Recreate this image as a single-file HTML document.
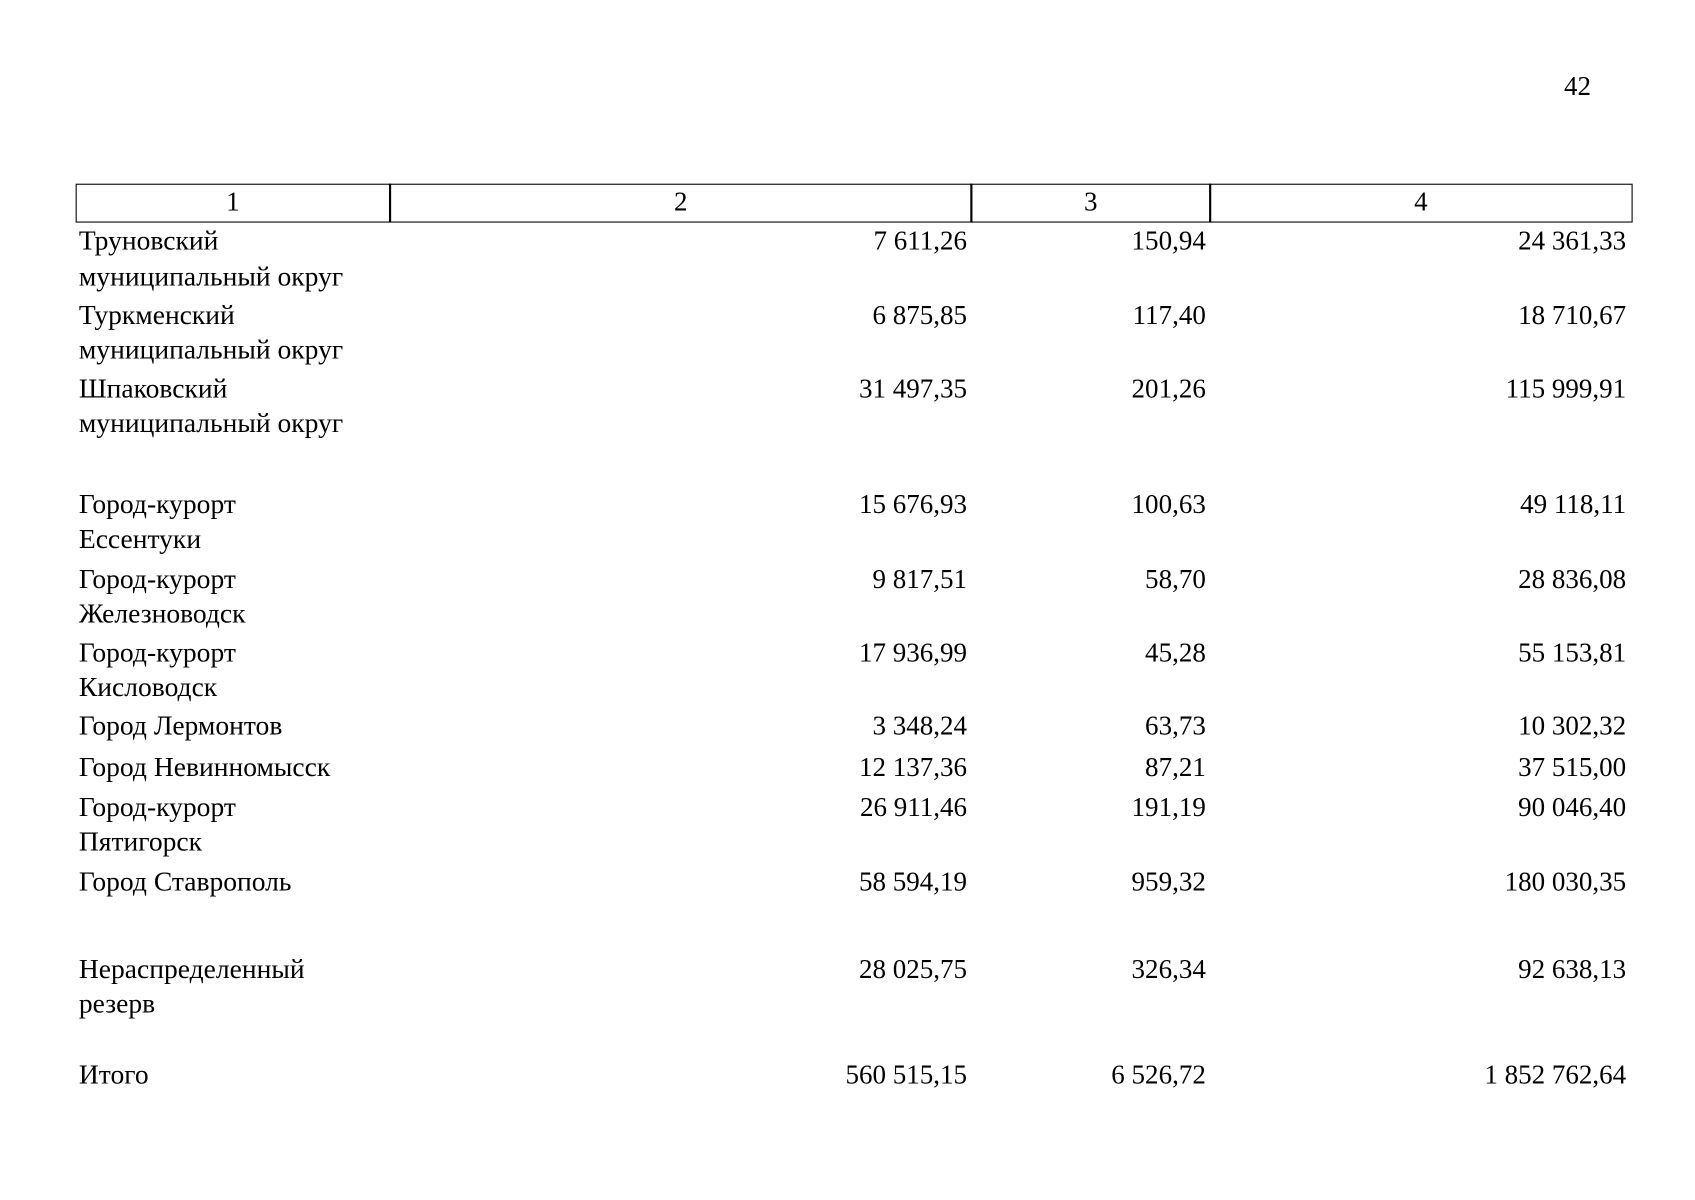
<!DOCTYPE html>
<html><head><meta charset="utf-8"><style>
html,body{margin:0;padding:0;background:#fff;width:1695px;height:1200px;overflow:hidden}
#c{position:absolute;left:0;top:0;width:1570px;height:1110px;transform:scale(1.0805);transform-origin:0 0;font-family:"Liberation Serif",serif;font-size:25px;color:#000}
.t{position:absolute;line-height:28px;white-space:nowrap;transform:scaleX(1.02);transform-origin:0 50%;margin-top:2px}
.r{position:absolute;line-height:28px;white-space:nowrap;text-align:right;margin-top:2px}
.h{position:absolute;line-height:28px;text-align:center}
.b{position:absolute;border:1.5px solid #000;box-sizing:border-box}
.v{position:absolute;width:1.5px;background:#000}
</style></head><body><div id="c">
<div class="h" style="left:1435px;top:67px;width:50px">42</div>
<div class="b" style="left:70px;top:170px;width:1441px;height:36px"></div>
<div class="v" style="left:360px;top:170px;height:36px"></div>
<div class="v" style="left:898px;top:170px;height:36px"></div>
<div class="v" style="left:1119px;top:170px;height:36px"></div>
<div class="h" style="left:70px;width:291px;top:174px">1</div>
<div class="h" style="left:361px;width:538px;top:174px">2</div>
<div class="h" style="left:899px;width:221px;top:174px">3</div>
<div class="h" style="left:1120px;width:390px;top:174px">4</div>

<div class="t" style="left:73px;top:208px">Труновский</div>
<div class="t" style="left:73px;top:241px">муниципальный округ</div>
<div class="r" style="right:675px;top:208px">7 611,26</div>
<div class="r" style="right:454px;top:208px">150,94</div>
<div class="r" style="right:65px;top:208px">24 361,33</div>

<div class="t" style="left:73px;top:277px">Туркменский</div>
<div class="t" style="left:73px;top:309px">муниципальный округ</div>
<div class="r" style="right:675px;top:277px">6 875,85</div>
<div class="r" style="right:454px;top:277px">117,40</div>
<div class="r" style="right:65px;top:277px">18 710,67</div>

<div class="t" style="left:73px;top:345px">Шпаковский</div>
<div class="t" style="left:73px;top:377px">муниципальный округ</div>
<div class="r" style="right:675px;top:345px">31 497,35</div>
<div class="r" style="right:454px;top:345px">201,26</div>
<div class="r" style="right:65px;top:345px">115 999,91</div>

<div class="t" style="left:73px;top:452px">Город-курорт</div>
<div class="t" style="left:73px;top:484px">Ессентуки</div>
<div class="r" style="right:675px;top:452px">15 676,93</div>
<div class="r" style="right:454px;top:452px">100,63</div>
<div class="r" style="right:65px;top:452px">49 118,11</div>

<div class="t" style="left:73px;top:521px">Город-курорт</div>
<div class="t" style="left:73px;top:553px">Железноводск</div>
<div class="r" style="right:675px;top:521px">9 817,51</div>
<div class="r" style="right:454px;top:521px">58,70</div>
<div class="r" style="right:65px;top:521px">28 836,08</div>

<div class="t" style="left:73px;top:589px">Город-курорт</div>
<div class="t" style="left:73px;top:621px">Кисловодск</div>
<div class="r" style="right:675px;top:589px">17 936,99</div>
<div class="r" style="right:454px;top:589px">45,28</div>
<div class="r" style="right:65px;top:589px">55 153,81</div>

<div class="t" style="left:73px;top:657px">Город Лермонтов</div>
<div class="r" style="right:675px;top:657px">3 348,24</div>
<div class="r" style="right:454px;top:657px">63,73</div>
<div class="r" style="right:65px;top:657px">10 302,32</div>

<div class="t" style="left:73px;top:695px">Город Невинномысск</div>
<div class="r" style="right:675px;top:695px">12 137,36</div>
<div class="r" style="right:454px;top:695px">87,21</div>
<div class="r" style="right:65px;top:695px">37 515,00</div>

<div class="t" style="left:73px;top:732px">Город-курорт</div>
<div class="t" style="left:73px;top:764px">Пятигорск</div>
<div class="r" style="right:675px;top:732px">26 911,46</div>
<div class="r" style="right:454px;top:732px">191,19</div>
<div class="r" style="right:65px;top:732px">90 046,40</div>

<div class="t" style="left:73px;top:801px">Город Ставрополь</div>
<div class="r" style="right:675px;top:801px">58 594,19</div>
<div class="r" style="right:454px;top:801px">959,32</div>
<div class="r" style="right:65px;top:801px">180 030,35</div>

<div class="t" style="left:73px;top:882px">Нераспределенный</div>
<div class="t" style="left:73px;top:914px">резерв</div>
<div class="r" style="right:675px;top:882px">28 025,75</div>
<div class="r" style="right:454px;top:882px">326,34</div>
<div class="r" style="right:65px;top:882px">92 638,13</div>

<div class="t" style="left:73px;top:980px">Итого</div>
<div class="r" style="right:675px;top:980px">560 515,15</div>
<div class="r" style="right:454px;top:980px">6 526,72</div>
<div class="r" style="right:65px;top:980px">1 852 762,64</div>
</div></body></html>
